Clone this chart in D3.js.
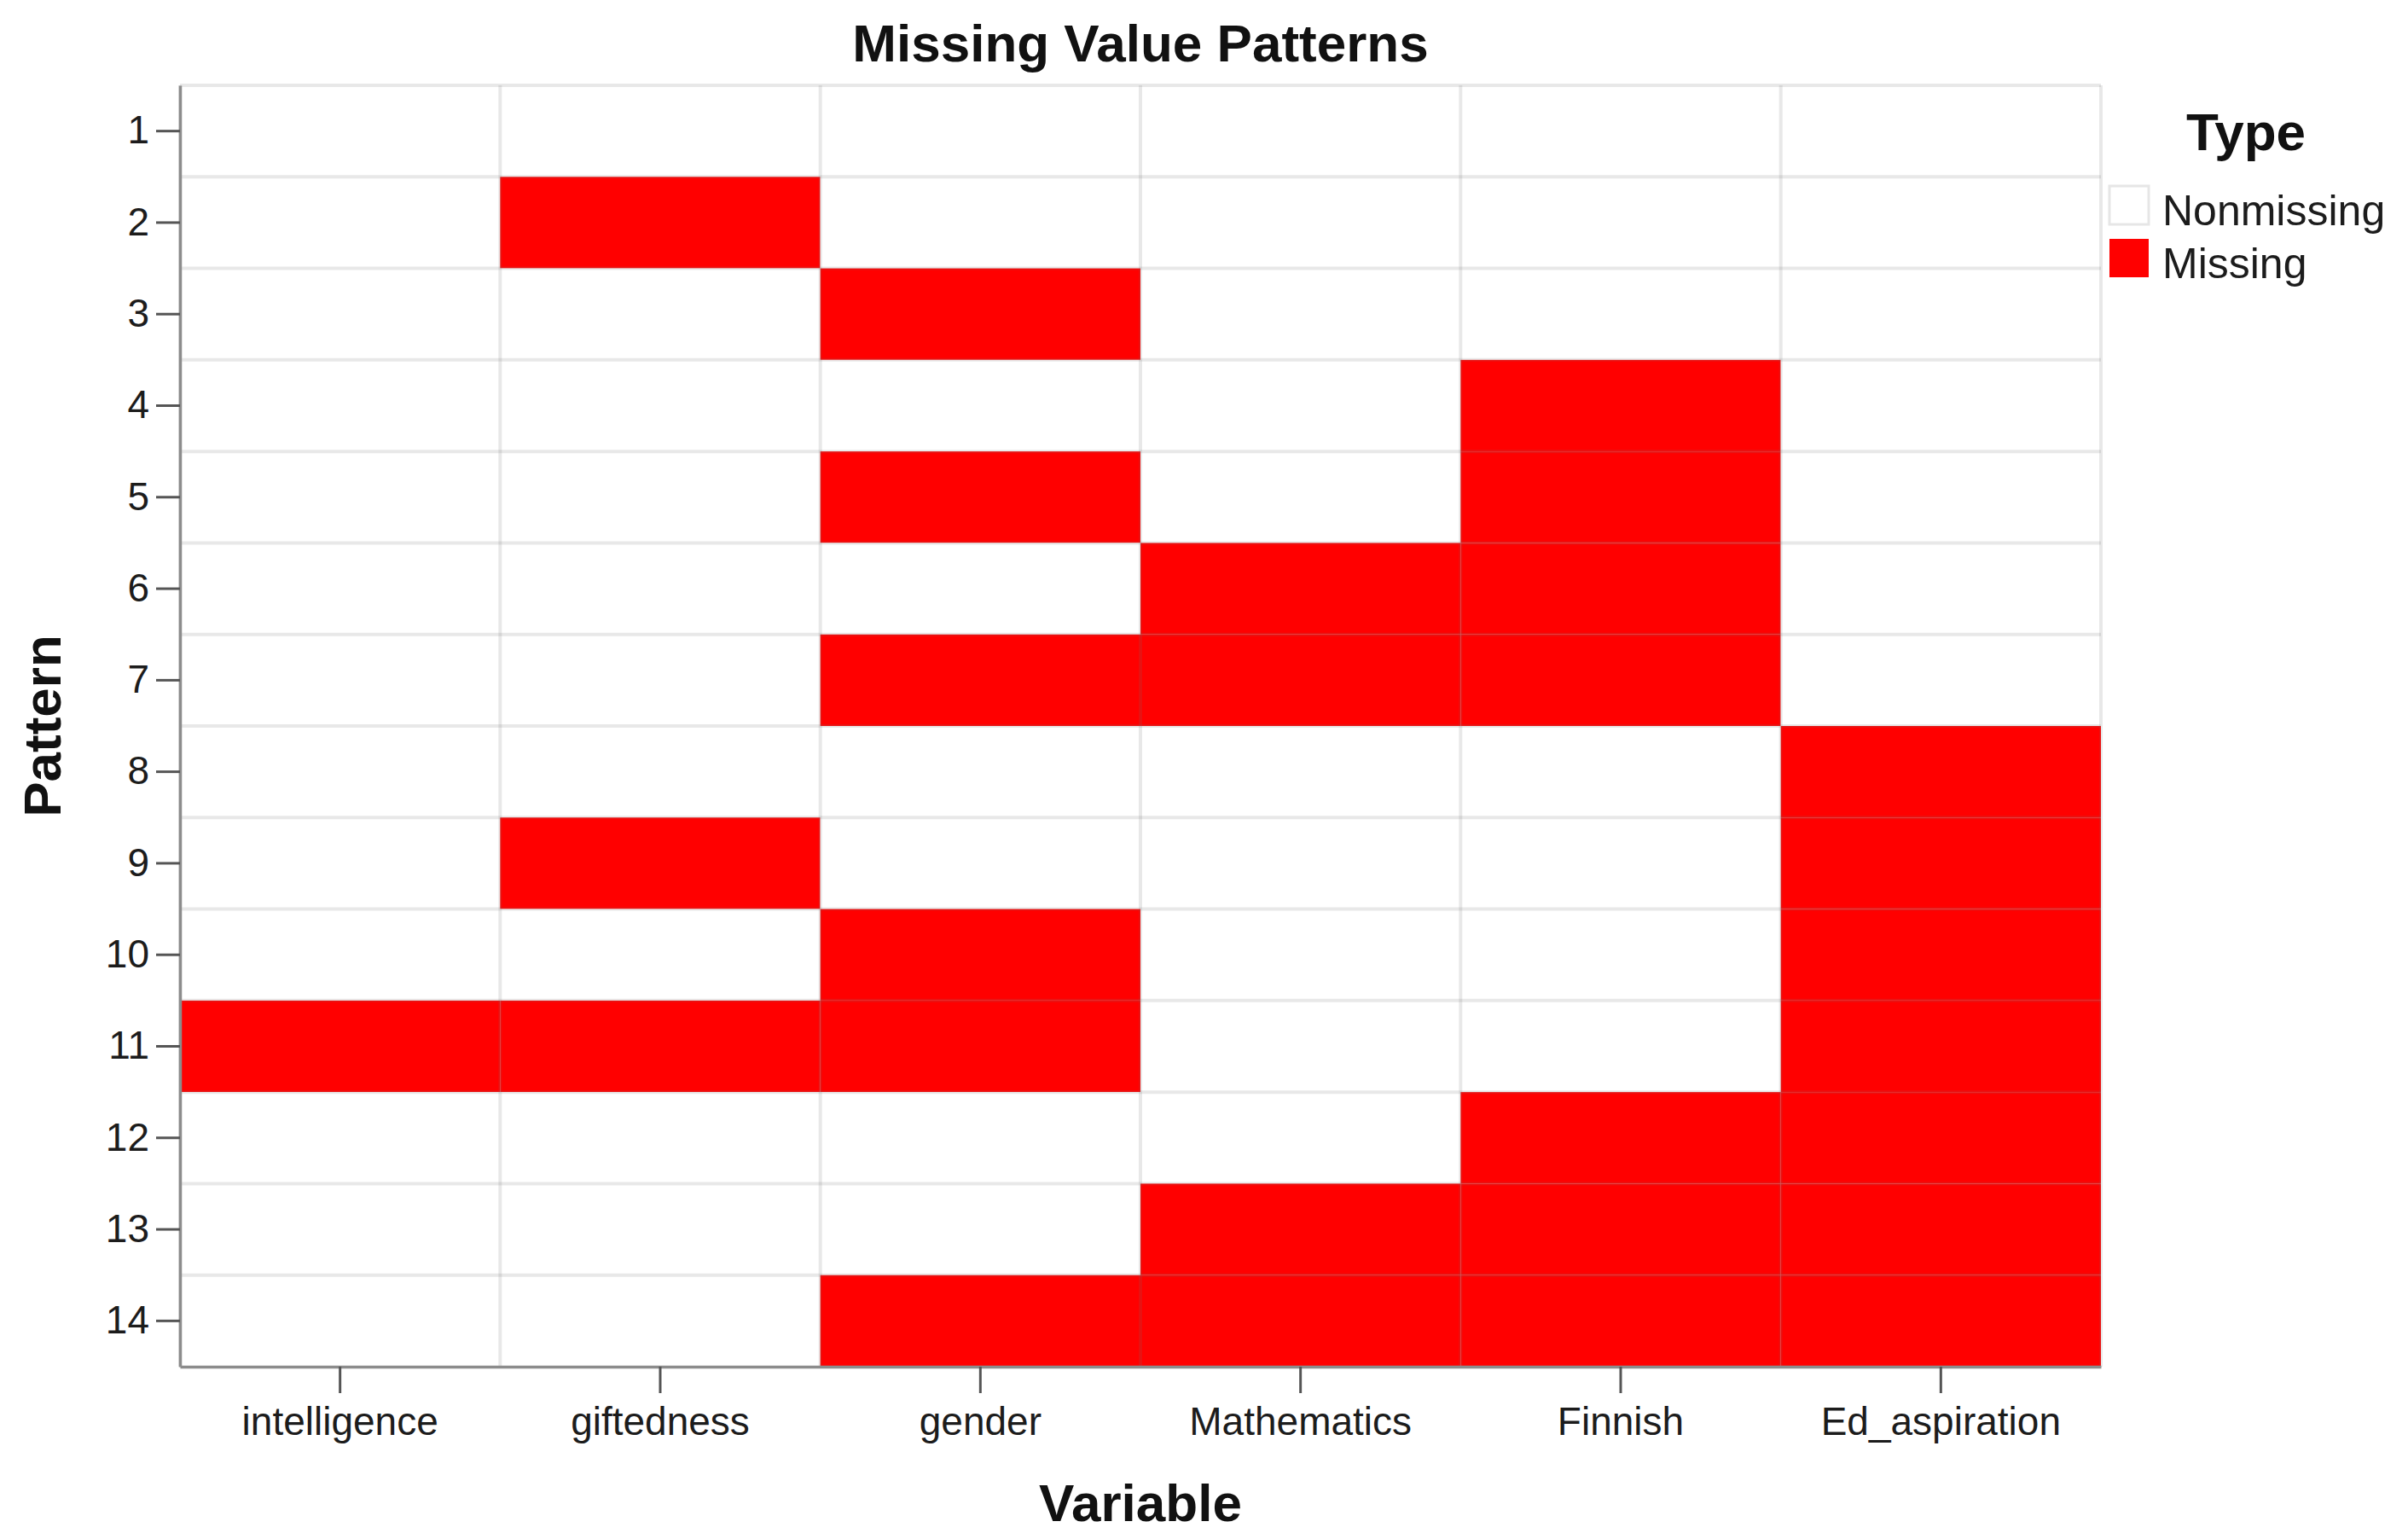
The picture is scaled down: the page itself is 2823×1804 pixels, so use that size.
<!DOCTYPE html>
<html>
<head>
<meta charset="utf-8">
<script src="https://cdn.jsdelivr.net/npm/d3@7"></script>
<style>
  html, body { margin: 0; padding: 0; background: #ffffff; }
  svg { display: block; font-family: "Liberation Sans", Arial, sans-serif; }
</style>
</head>
<body>
<svg id="chart" width="2823" height="1804"></svg>
<script>
// ---- data ----
const variables = ["intelligence", "giftedness", "gender", "Mathematics", "Finnish", "Ed_aspiration"];
const patterns = ["1","2","3","4","5","6","7","8","9","10","11","12","13","14"];
// 1 = Missing, 0 = Nonmissing (one row per pattern, columns follow `variables`)
const missing = [
  [0,0,0,0,0,0],
  [0,1,0,0,0,0],
  [0,0,1,0,0,0],
  [0,0,0,0,1,0],
  [0,0,1,0,1,0],
  [0,0,0,1,1,0],
  [0,0,1,1,1,0],
  [0,0,0,0,0,1],
  [0,1,0,0,0,1],
  [0,0,1,0,0,1],
  [1,1,1,0,0,1],
  [0,0,0,0,1,1],
  [0,0,0,1,1,1],
  [0,0,1,1,1,1]
];
const types = ["Nonmissing", "Missing"];
const typeColors = ["#ffffff", "#ff0000"];

// ---- layout ----
const svg = d3.select("#chart");
const L = 211, R = 2463, T = 100, B = 1602;

const x = d3.scaleBand().domain(variables).range([L, R]).padding(0);
const y = d3.scaleBand().domain(patterns).range([T, B]).padding(0);
const color = d3.scaleOrdinal().domain([0, 1]).range(typeColors);

const cells = [];
patterns.forEach((p, i) => variables.forEach((v, j) => cells.push({p, v, m: missing[i][j]})));

svg.append("g").selectAll("rect").data(cells).join("rect")
  .attr("x", d => x(d.v))
  .attr("y", d => y(d.p))
  .attr("width", x.bandwidth())
  .attr("height", y.bandwidth())
  .attr("fill", d => color(d.m));

// grid lines (semi-transparent so they darken red slightly)
const grid = svg.append("g").attr("stroke", "rgba(110,110,110,0.16)").attr("stroke-width", 4);
patterns.forEach(p => {
  grid.append("line").attr("x1", L).attr("x2", R).attr("y1", y(p)).attr("y2", y(p));
});
variables.forEach(v => {
  grid.append("line").attr("x1", x(v)).attr("x2", x(v)).attr("y1", T).attr("y2", B);
});
grid.append("line").attr("x1", R).attr("x2", R).attr("y1", T).attr("y2", B);

// axes
const yAxis = d3.axisLeft(y).tickSizeInner(28).tickSizeOuter(0).tickPadding(8);
const gy = svg.append("g").attr("transform", `translate(${L},0)`).call(yAxis);
const xAxis = d3.axisBottom(x).tickSizeInner(31).tickSizeOuter(0).tickPadding(16);
const gx = svg.append("g").attr("transform", `translate(0,${B})`).call(xAxis);

[gx, gy].forEach(g => {
  g.select(".domain").attr("stroke", "#8c8c8c").attr("stroke-width", 3.5);
  g.selectAll(".tick line").attr("stroke", "#555555").attr("stroke-width", 3);
  g.selectAll(".tick text").attr("fill", "#1c1c1c").attr("font-size", 46)
    .attr("font-family", "'Liberation Sans', Arial, sans-serif");
});
gx.selectAll(".tick text").attr("dy", "0.71em");

// titles
svg.append("text").attr("x", 1337).attr("y", 72).attr("text-anchor", "middle")
  .attr("font-size", 62).attr("font-weight", "bold").attr("fill", "#111")
  .text("Missing Value Patterns");

svg.append("text").attr("x", (L + R) / 2).attr("y", 1783).attr("text-anchor", "middle")
  .attr("font-size", 62).attr("font-weight", "bold").attr("fill", "#111")
  .text("Variable");

svg.append("text").attr("transform", `translate(71,${(T + B) / 2}) rotate(-90)`)
  .attr("text-anchor", "middle")
  .attr("font-size", 62).attr("font-weight", "bold").attr("fill", "#111")
  .text("Pattern");

// legend
const lg = svg.append("g");
lg.append("text").attr("x", 2633).attr("y", 176).attr("text-anchor", "middle")
  .attr("font-size", 62).attr("font-weight", "bold").attr("fill", "#111").text("Type");
const ly = d3.scaleBand().domain(types).range([218, 342]).padding(0);
lg.selectAll("rect").data(types).join("rect")
  .attr("x", 2473).attr("y", d => ly(d))
  .attr("width", 46).attr("height", 45)
  .attr("fill", (d, i) => typeColors[i])
  .attr("stroke", (d, i) => i === 0 ? "#e6e6e6" : "none").attr("stroke-width", 3);
lg.selectAll("text.lab").data(types).join("text").attr("class", "lab")
  .attr("x", 2535).attr("y", d => ly(d) + 46)
  .attr("font-size", 50).attr("fill", "#1c1c1c").text(d => d);
</script>
</body>
</html>
